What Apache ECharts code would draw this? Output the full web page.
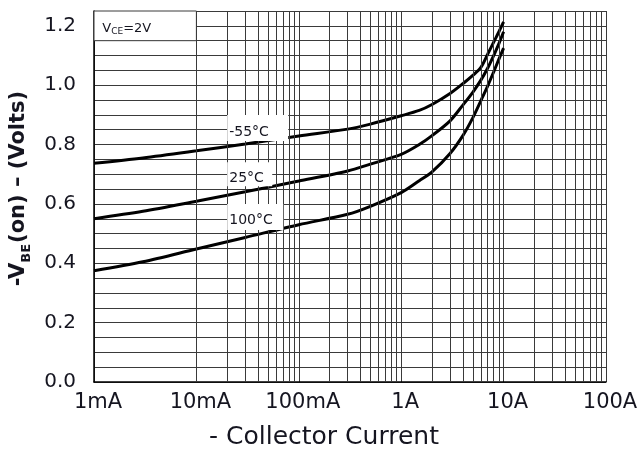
<!DOCTYPE html>
<html>
<head>
<meta charset="utf-8">
<script src="https://cdn.jsdelivr.net/npm/echarts@6/dist/echarts.min.js"></script>
<style>html,body{margin:0;padding:0;background:#fff}#c{width:639px;height:449px}</style>
</head>
<body>
<div id="c"></div>
<script>
// Collector current (A)
const current = [0.001, 0.003, 0.01, 0.03, 0.1, 0.3, 0.5, 1, 1.5, 2, 3, 4, 5, 6, 7, 8, 9, 10];
// -VBE(on) (V)
const vMinus55 = [0.737, 0.755, 0.779, 0.802, 0.829, 0.852, 0.869, 0.897, 0.915, 0.935, 0.972, 1.005, 1.033, 1.06, 1.105, 1.145, 1.18, 1.213];
const v25 = [0.550, 0.575, 0.609, 0.641, 0.677, 0.711, 0.734, 0.767, 0.80, 0.83, 0.88, 0.933, 0.976, 1.017, 1.058, 1.10, 1.14, 1.18];
const v100 = [0.375, 0.405, 0.448, 0.487, 0.530, 0.565, 0.592, 0.638, 0.678, 0.708, 0.77, 0.83, 0.89, 0.948, 0.998, 1.045, 1.088, 1.125];
const seriesNames = ['-55°C', '25°C', '100°C'];
const xTickValues = [0.001, 0.01, 0.1, 1, 10, 100];
const xTickLabels = ['1mA', '10mA', '100mA', '1A', '10A', '100A'];
const yTickLabels = ['0.0', '0.2', '0.4', '0.6', '0.8', '1.0', '1.2'];
const minorMultipliers = [2, 3, 4, 5, 6, 7, 8, 9];
const decades = [0.001, 0.01, 0.1, 1, 10];

const FONT = 'DejaVu Sans';
const GRID = '#3a3a3a';
const TXT = '#151520';

const minorLines = [];
decades.forEach(d => minorMultipliers.forEach(m => minorLines.push({ xAxis: +(d * m).toPrecision(3) })));

const pair = arr => current.map((c, i) => [c, arr[i]]);
const boxLabel = (text, w, h, padTop) => ({
  show: true, formatter: text, position: 'inside', align: 'left', verticalAlign: 'top',
  fontFamily: FONT, fontSize: 14, color: TXT, backgroundColor: '#fff',
  width: w, height: h, padding: [padTop, 0, 0, 2], lineHeight: 16
});

const chart = echarts.init(document.getElementById('c'), null, { renderer: 'canvas' });
chart.setOption({
  animation: false,
  backgroundColor: '#fff',
  grid: { left: 94, right: 33, top: 11, bottom: 67, containLabel: false, outerBoundsMode: 'none' },
  xAxis: {
    type: 'log', logBase: 10, min: 0.001, max: 100,
    axisLine: { show: true, onZero: false, lineStyle: { color: '#000', width: 1.5 } },
    axisTick: { show: false },
    splitLine: { show: true, lineStyle: { color: GRID, width: 1 } },
    axisLabel: {
      margin: 10, fontFamily: FONT, fontSize: 21, color: TXT, padding: [0, 0, 0, 8],
      formatter: v => { const i = xTickValues.findIndex(t => Math.abs(Math.log10(t) - Math.log10(v)) < 1e-6); return i >= 0 ? xTickLabels[i] : ''; }
    },
    name: '- Collector Current', nameLocation: 'middle', nameGap: 43,
    nameTextStyle: { fontFamily: FONT, fontSize: 25, color: TXT, padding: [0, 52, 0, 0] }
  },
  yAxis: {
    type: 'value', min: 0, max: 1.25, interval: 0.05,
    axisLine: { show: true, onZero: false, lineStyle: { color: '#000', width: 1.5 } },
    axisTick: { show: false },
    splitLine: { show: true, lineStyle: { color: GRID, width: 1 } },
    axisLabel: {
      margin: 18, fontFamily: FONT, fontSize: 20, color: TXT,
      formatter: v => { const k = Math.round(v / 0.2); return Math.abs(v - k * 0.2) < 1e-6 && k < yTickLabels.length ? yTickLabels[k] : ''; }
    },
    name: '-V{sub|BE}(on) – (Volts)', nameLocation: 'middle', nameGap: 57, nameRotate: 90,
    nameTextStyle: {
      fontFamily: FONT, fontSize: 21, fontWeight: 'bold', color: TXT, padding: [0, 0, 0, 16],
      rich: { sub: { fontFamily: FONT, fontSize: 13, fontWeight: 'bold', color: TXT, verticalAlign: 'bottom', padding: [0, 1, -4, 0] } }
    }
  },
  series: [
    {
      name: 'grid', type: 'line', data: [], z: 1, silent: true,
      markLine: { silent: true, symbol: ['none', 'none'], label: { show: false }, animation: false,
        lineStyle: { color: GRID, width: 1, type: 'solid' }, data: minorLines }
    },
    {
      name: 'boxes', type: 'line', data: [], z: 2, silent: true,
      markArea: { silent: true, animation: false,
        data: [
          [{ xAxis: 0.001, yAxis: 1.15, itemStyle: { color: '#fff', opacity: 1, borderColor: GRID, borderWidth: 1 } }, { xAxis: 0.01, yAxis: 1.25 }]
        ] },
      markPoint: { silent: true, animation: false, symbol: 'circle', symbolSize: 0,
        data: [
          { coord: [0.02, 0.90], value: seriesNames[0], label: boxLabel(seriesNames[0], 59, 17, 9) },
          { coord: [0.02, 0.74], value: seriesNames[1], label: boxLabel(seriesNames[1], 43, 16, 8) },
          { coord: [0.02, 0.60], value: seriesNames[2], label: boxLabel(seriesNames[2], 54, 18, 8) },
          { coord: [0.00209, 1.19], value: 'VCE', label: { show: true, position: 'inside', formatter: '{a|V}{s|CE}{a|=2V}',
            rich: { a: { fontFamily: FONT, fontSize: 13, color: TXT }, s: { fontFamily: FONT, fontSize: 9, color: TXT, verticalAlign: 'bottom', padding: [0, 0, -1, 0] } } } }
        ] }
    },
    { name: seriesNames[0], type: 'line', z: 3, data: pair(vMinus55), smooth: 0.3, showSymbol: false, lineStyle: { color: '#000', width: 3 } },
    { name: seriesNames[1], type: 'line', z: 3, data: pair(v25), smooth: 0.3, showSymbol: false, lineStyle: { color: '#000', width: 3 } },
    { name: seriesNames[2], type: 'line', z: 3, data: pair(v100), smooth: 0.3, showSymbol: false, lineStyle: { color: '#000', width: 3 } }
  ]
});
</script>
</body>
</html>
